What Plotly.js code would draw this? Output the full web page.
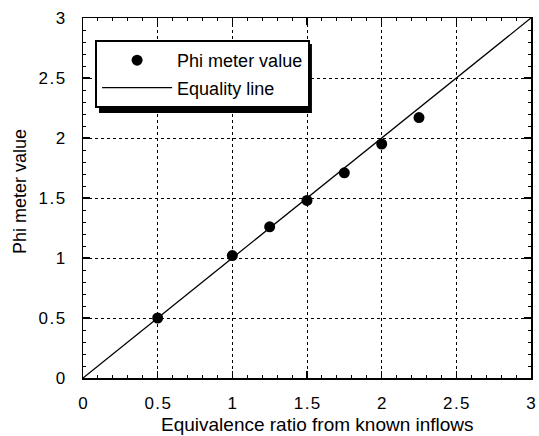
<!DOCTYPE html>
<html>
<head>
<meta charset="utf-8">
<script src="https://cdn.plot.ly/plotly-3.0.1.min.js"></script>
<style>html,body{margin:0;padding:0;background:#fff;}#chart{width:539px;height:436px;}</style>
</head>
<body>
<div id="chart"></div>
<script>
// Data
var knownPhi = [0.5, 1.0, 1.25, 1.5, 1.75, 2.0, 2.25];
var meterPhi = [0.5, 1.02, 1.26, 1.48, 1.71, 1.95, 2.17];
var equalityX = [0, 3];
var equalityY = [0, 3];
var tickVals = [0, 0.5, 1, 1.5, 2, 2.5, 3];
var tickText = ['0', '0\u200A.\u200A5', '1', '1\u200A.\u200A5', '2', '2\u200A.\u200A5', '3'];
var xTitle = 'Equivalence ratio from known inflows';
var yTitle = 'Phi meter value';

var FONT = 'Liberation Sans, Arial, Helvetica, sans-serif';

var traces = [
  {x: knownPhi, y: meterPhi, mode: 'markers', type: 'scatter', name: 'Phi meter value',
   legendgroup: 'a', marker: {color: '#000', size: 11}},
  {x: equalityX, y: equalityY, mode: 'lines', type: 'scatter', name: 'Equality line',
   legendgroup: 'b', line: {color: '#000', width: 1.3}}
];

function axis() {
  return {
    range: [0, 3], tickvals: tickVals, ticktext: tickText,
    showgrid: true, gridcolor: '#000', griddash: 'dot', gridwidth: 1,
    zeroline: false, showline: true, linecolor: '#000', linewidth: 1.5, mirror: 'ticks',
    ticks: 'inside', ticklen: 7, tickwidth: 1.2, tickcolor: '#000',
    minor: {dtick: 0.1, ticks: 'inside', ticklen: 3, tickwidth: 1, tickcolor: '#000', showgrid: false},
    tickfont: {family: FONT, size: 17, color: '#000'},
    fixedrange: true
  };
}

var xa = axis();
xa.ticklabelstandoff = 9;
var ya = axis();
ya.ticklabelstandoff = 13;

var layout = {
  width: 539, height: 436,
  margin: {l: 83, r: 8, t: 18, b: 58},
  paper_bgcolor: '#fff', plot_bgcolor: '#fff',
  xaxis: xa, yaxis: ya,
  showlegend: true,
  legend: {
    x: 0.027, y: 0.939, xanchor: 'left', yanchor: 'top',
    bgcolor: '#fff', bordercolor: '#000', borderwidth: 2,
    font: {family: FONT, size: 18, color: '#000'},
    itemwidth: 70, traceorder: 'grouped', tracegroupgap: 1
  },
  annotations: [
    {text: xTitle, xref: 'paper', yref: 'paper', x: 0.5, xshift: 10, y: 0, yshift: -46,
     xanchor: 'center', yanchor: 'middle', showarrow: false,
     font: {family: FONT, size: 19, color: '#000'}},
    {text: yTitle, xref: 'paper', yref: 'paper', x: 0, xshift: -63, y: 0.5, yshift: 6,
     xanchor: 'center', yanchor: 'middle', textangle: -90, showarrow: false,
     font: {family: FONT, size: 18, color: '#000'}}
  ],
  shapes: [
    {type: 'rect', xref: 'paper', yref: 'paper', x0: 0.0357, x1: 0.511, y0: 0.736, y1: 0.928,
     fillcolor: '#000', line: {width: 0}, layer: 'above'}
  ]
};

Plotly.newPlot('chart', traces, layout, {displayModeBar: false, staticPlot: true});
</script>
</body>
</html>
